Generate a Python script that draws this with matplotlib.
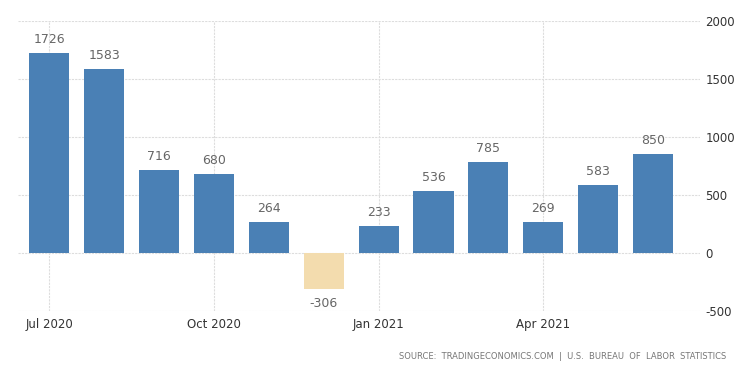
import numpy as np
import matplotlib.pyplot as plt

# Monthly change, Jul 2020 - Jun 2021 (thousands)
months = ['Jul 2020', 'Aug 2020', 'Sep 2020', 'Oct 2020', 'Nov 2020', 'Dec 2020',
          'Jan 2021', 'Feb 2021', 'Mar 2021', 'Apr 2021', 'May 2021', 'Jun 2021']
values = [1726, 1583, 716, 680, 264, -306, 233, 536, 785, 269, 583, 850]
yticks = [-500, 0, 500, 1000, 1500, 2000]
shown_months = ['Jul 2020', 'Oct 2020', 'Jan 2021', 'Apr 2021']

BLUE = '#4a80b5'
TAN = '#f3dcae'

fig = plt.figure(figsize=(7.5, 3.73), dpi=100)
ax = fig.add_axes([0.024, 0.166, 0.909, 0.778])

x = np.arange(len(months))
colors = [BLUE if v >= 0 else TAN for v in values]
ax.bar(x, values, width=0.73, color=colors, zorder=2)

for xi, v in zip(x, values):
    if v >= 0:
        ax.annotate(str(v), (xi, v), xytext=(0, 5), textcoords='offset points',
                    ha='center', va='bottom', fontsize=9, color='#666666')
    else:
        ax.annotate(str(v), (xi, v), xytext=(0, -6), textcoords='offset points',
                    ha='center', va='top', fontsize=9, color='#666666')

ax.set_xlim(-0.57, 11.85)
ax.set_ylim(-500, 2000)

tick_pos = [months.index(m) for m in shown_months]
ax.set_xticks(tick_pos)
ax.set_xticklabels(shown_months, fontsize=8.5, color='#333333')
ax.set_yticks(yticks)
ax.set_yticklabels([str(t) for t in yticks], fontsize=8.5, color='#333333')
ax.yaxis.tick_right()
ax.tick_params(axis='both', length=0, pad=4)
ax.tick_params(axis='x', pad=5)

ax.grid(True, color='#dddddd', linestyle=(0, (2, 1)), linewidth=0.8, zorder=0)
for s in ax.spines.values():
    s.set_visible(False)

fig.text(0.968, 0.045, 'SOURCE:  TRADINGECONOMICS.COM  |  U.S.  BUREAU  OF  LABOR  STATISTICS',
         ha='right', va='center', fontsize=6, color='#777777')

fig.savefig('out.png', dpi=100)
